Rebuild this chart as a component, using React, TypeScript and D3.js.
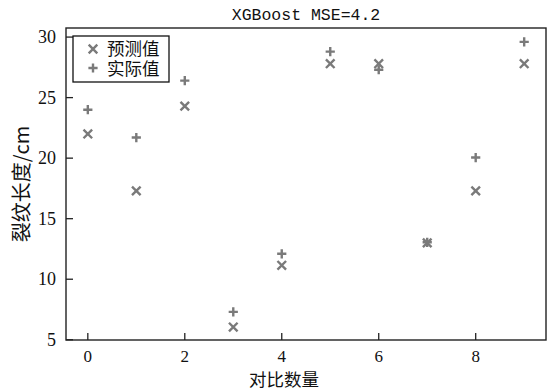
import React from "react";
import * as d3 from "d3";

// Sample indices and crack lengths (cm)
const indices = [0, 1, 2, 3, 4, 5, 6, 7, 8, 9];
const predicted = [22.0, 17.3, 24.3, 6.05, 11.15, 27.8, 27.8, 13.0, 17.3, 27.8];
const actual = [24.0, 21.7, 26.4, 7.3, 12.1, 28.8, 27.3, 13.05, 20.05, 29.6];
const xTicks = [0, 2, 4, 6, 8];
const yTicks = [5, 10, 15, 20, 25, 30];
const titleText = "XGBoost MSE=4.2";
const xLabel = "对比数量";
const yLabel = "裂纹长度/cm";
const legendLabels = ["预测值", "实际值"];

const W = 552;
const H = 390;
const margin = { left: 66, right: 6, top: 28, bottom: 50 };

const serif = "'Liberation Serif', 'Noto Sans CJK SC', serif";
const cjk = "'Noto Sans CJK SC', 'Liberation Serif', serif";
const markerColor = "#7a7a7a";

function Cross({ x, y, r = 4.3 }: { x: number; y: number; r?: number }) {
  return (
    <path
      d={`M${x - r},${y - r}L${x + r},${y + r}M${x - r},${y + r}L${x + r},${y - r}`}
      stroke={markerColor}
      strokeWidth={2.4}
      fill="none"
    />
  );
}

function Plus({ x, y, r = 4.6 }: { x: number; y: number; r?: number }) {
  return (
    <path
      d={`M${x - r},${y}L${x + r},${y}M${x},${y - r}L${x},${y + r}`}
      stroke={markerColor}
      strokeWidth={2.4}
      fill="none"
    />
  );
}

export default function App() {
  const x = d3
    .scaleLinear()
    .domain([-0.45, 9.45])
    .range([margin.left, W - margin.right]);
  const y = d3
    .scaleLinear()
    .domain([4.98, 30.75])
    .range([H - margin.bottom, margin.top]);

  const [x0, x1] = x.range();
  const [y0, y1] = y.range();

  return (
    <svg
      width={W}
      height={H}
      style={{ position: "absolute", left: 0, top: 0, background: "#fff" }}
    >
      {/* title */}
      <text
        x={(x0 + x1) / 2}
        y={20}
        textAnchor="middle"
        fontFamily="'Liberation Mono', monospace"
        fontSize={16.5}
        fill="#111"
      >
        {titleText}
      </text>

      {/* points */}
      {indices.map((d, i) => (
        <Cross key={`p${i}`} x={x(d)} y={y(predicted[i])} />
      ))}
      {indices.map((d, i) => (
        <Plus key={`a${i}`} x={x(d)} y={y(actual[i])} />
      ))}

      {/* x ticks (inward) */}
      {xTicks.map((t) => (
        <g key={`xt${t}`}>
          <line x1={x(t)} x2={x(t)} y1={y0} y2={y0 - 7} stroke="#222" strokeWidth={1.3} />
          <text
            x={x(t)}
            y={y0 + 22}
            textAnchor="middle"
            fontFamily={serif}
            fontSize={17}
            fill="#111"
          >
            {t}
          </text>
        </g>
      ))}

      {/* y ticks (inward) */}
      {yTicks.map((t) => (
        <g key={`yt${t}`}>
          <line x1={x0} x2={x0 + 7} y1={y(t)} y2={y(t)} stroke="#222" strokeWidth={1.3} />
          <text
            x={x0 - 10}
            y={y(t) + 6}
            textAnchor="end"
            fontFamily={serif}
            fontSize={18}
            fill="#111"
          >
            {t}
          </text>
        </g>
      ))}

      {/* frame */}
      <rect
        x={x0}
        y={y1}
        width={x1 - x0}
        height={y0 - y1}
        fill="none"
        stroke="#222"
        strokeWidth={1.4}
      />

      {/* axis labels */}
      <text
        x={(x0 + x1) / 2 - 22}
        y={385.5}
        textAnchor="middle"
        fontFamily={cjk}
        fontSize={17.5}
        fill="#111"
      >
        {xLabel}
      </text>
      <text
        transform={`translate(29,${184}) rotate(-90)`}
        textAnchor="middle"
        fontFamily={cjk}
        fontSize={20}
        fill="#111"
      >
        {yLabel}
      </text>

      {/* legend */}
      <g>
        <rect x={73} y={36} width={96} height={46} fill="#fff" stroke="#111" strokeWidth={1.3} />
        <Cross x={93} y={49} />
        <Plus x={93} y={68} />
        <text fontFamily={cjk} fontSize={17.5} fill="#111">
          <tspan x={107} y={55}>
            {legendLabels[0]}
          </tspan>
          <tspan x={107} y={74.5}>
            {legendLabels[1]}
          </tspan>
        </text>
      </g>
    </svg>
  );
}
